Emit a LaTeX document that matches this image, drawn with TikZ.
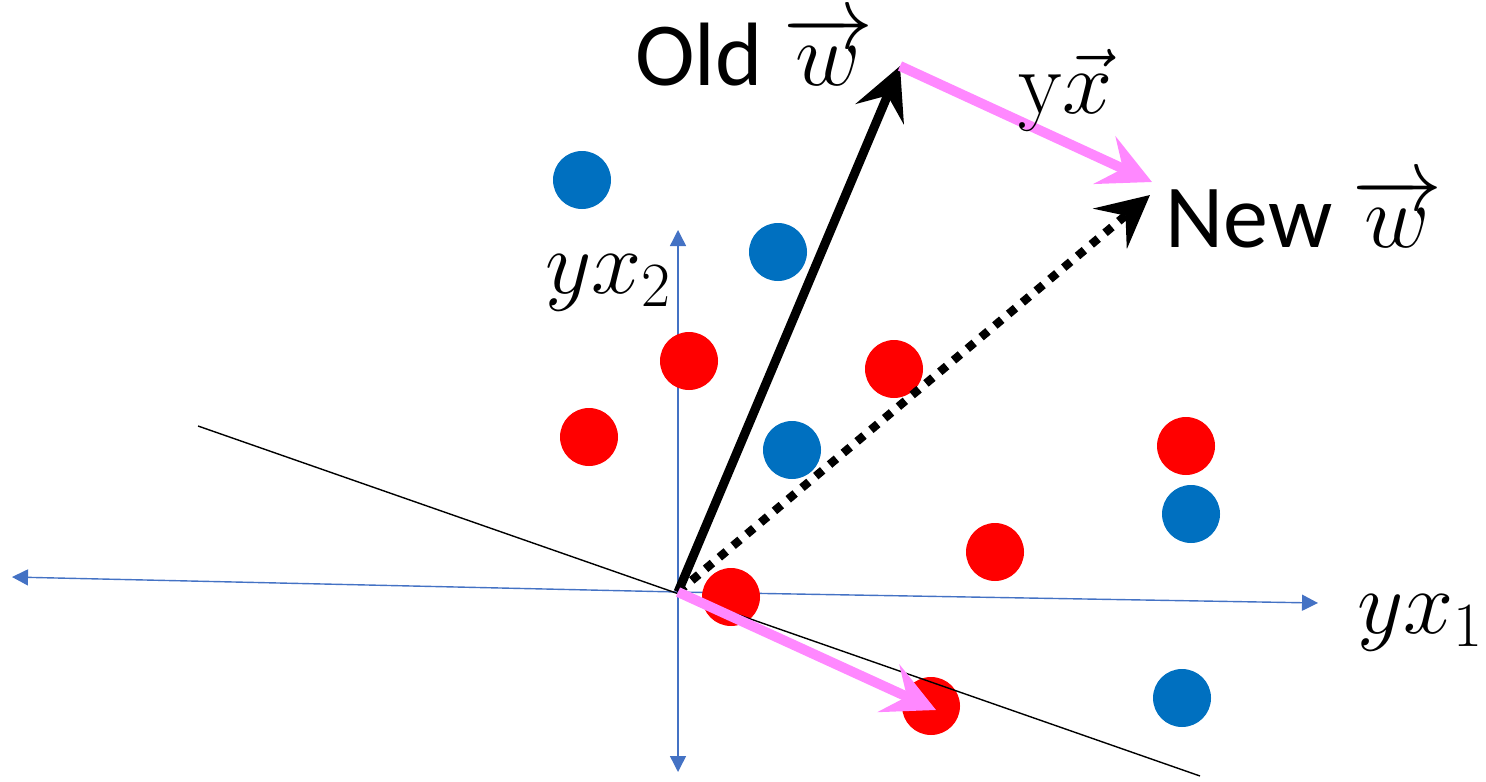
\RequirePackage{fix-cm}
\documentclass[tikz,border=0pt]{standalone}
\usepackage{fontspec}
\setmainfont{Carlito}
\newfontfamily\lmroman{Latin Modern Roman}
\usepackage{xcolor}
\usepackage{tikz}
\usetikzlibrary{positioning, arrows.meta, calc}
\definecolor{dotblue}{HTML}{0070C0}
\definecolor{dotred}{HTML}{FF0000}
\definecolor{axisblue}{HTML}{4472C4}
\definecolor{updpink}{HTML}{FF88FF}

\tikzset{
  bluedot/.style={circle, fill=dotblue, minimum size=29pt, inner sep=0pt},
  reddot/.style={circle, fill=dotred, minimum size=29pt, inner sep=0pt},
  axisline/.style={draw=axisblue, line width=0.7pt, -{Triangle[length=8pt, width=8pt]}},
  sepline/.style={draw=black, line width=0.7pt},
  bigtip/.style={-{Stealth[length=26pt, width=26pt, inset=10pt]}},
  wvec/.style={bigtip, line width=4.5pt, line cap=butt},
  xvec/.style={bigtip, draw=updpink, line width=5pt},
  newvec/.style={bigtip, line width=4.2pt, dash pattern=on 4.5pt off 4.5pt},
  biglabel/.style={font=\fontsize{45}{50}\selectfont, inner sep=0pt, anchor=base west},
}

\begin{document}
\begin{tikzpicture}[x=0.5pt, y=-0.5pt]
  \useasboundingbox (0,0) rectangle (1486,781);

  % axes and separating line
  \coordinate (O) at (678,592);
  \coordinate (xleft) at (12,577);
  \coordinate (xright) at (1318,603);
  \coordinate (ytop) at (678,230);
  \coordinate (ybot) at (678,772);
  \coordinate (sepA) at (198,426);
  \coordinate (sepB) at (1200,776);
  \draw[axisline] (O) -- (xleft);
  \draw[axisline] (O) -- (xright);
  \draw[axisline] (O) -- (ytop);
  \draw[axisline] (O) -- (ybot);

  % data points
  \node[bluedot] (b1) at (582,180) {};
  \node[bluedot] (b2) at (778,252) {};
  \node[bluedot] (b3) at (792,450) {};
  \node[bluedot] (b4) at (1191,514) {};
  \node[bluedot] (b5) at (1182,698) {};
  \node[reddot] (r1) at (689,361) {};
  \node[reddot] (r2) at (894,369) {};
  \node[reddot] (r3) at (589,437) {};
  \node[reddot] (r4) at (1186,446) {};
  \node[reddot] (r5) at (995,552) {};
  \node[reddot] (r6) at (731,597) {};
  \node[reddot] (r7) at (931,706) {};

  \draw[sepline] (sepA) -- (sepB);

  % weight update
  \coordinate (oldtip) at (900,66);
  \coordinate (newtip) at (1150,195);
  \coordinate (addtip) at (1152,182);
  \coordinate (xtip) at (936,710);
  \draw[newvec] (O) -- (newtip);
  \draw[wvec] (O) -- (oldtip);
  \draw[xvec] (oldtip) -- (addtip);
  \draw[xvec] (O) -- (xtip);

  % labels
  \node[biglabel] (oldlbl) at (635,85) {Old $\overrightarrow{w}$};
  \node[biglabel] (newlbl) at (1165,247) {New $\overrightarrow{w}$};
  \node[biglabel] (addlbl) at (1018,113) {{\lmroman y}$\vec{x}$};
  \node[biglabel] (ax2lbl) at (545,293) {$yx_2$};
  \node[biglabel] (ax1lbl) at (1357,633) {$yx_1$};
\end{tikzpicture}
\end{document}
